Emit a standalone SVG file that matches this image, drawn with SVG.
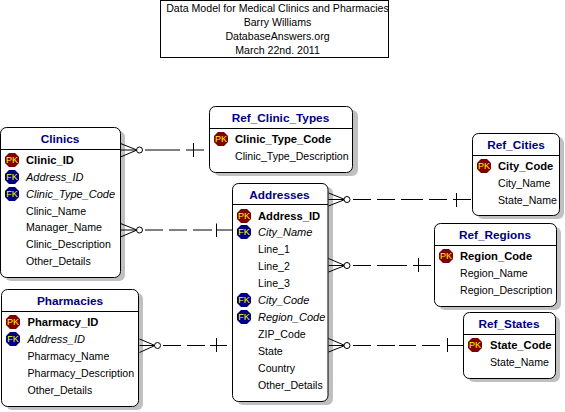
<svg xmlns="http://www.w3.org/2000/svg" width="565" height="412" viewBox="0 0 565 412">
<style>
text{font-family:"Liberation Sans",Arial,sans-serif;font-size:10.6px;fill:#000}
.t{font-size:11.8px;font-weight:bold;fill:#000080;text-anchor:middle}
.pk{font-weight:bold;font-size:11.2px}
.fk{font-style:italic;font-size:11px}
.h{text-anchor:middle}
.ic{font-size:9px;fill:#ffff00;text-anchor:middle}
.box{fill:#fff;stroke:#000;stroke-width:1}
.sh{fill:#c0c0c0}
.ln{stroke:#000;stroke-width:1;fill:none}
.c{stroke:#000;stroke-width:1;fill:#fff}
</style>
<defs>
<polygon id="oct" points="-3,-7 3,-7 7,-3 7,3 3,7 -3,7 -7,3 -7,-3"/>
</defs>
<rect width="565" height="412" fill="#fff"/>
<g id="title">
<rect x="160.500" y="0.500" width="228" height="57" fill="#fff" stroke="#000"/>
<text class="h" x="277.500" y="12">Data Model for Medical Clinics and Pharmacies</text>
<text class="h" x="277.500" y="26">Barry Williams</text>
<text class="h" x="277.500" y="40">DatabaseAnswers.org</text>
<text class="h" x="277.500" y="54">March 22nd. 2011</text>
</g>
<g id="Clinics">
<rect class="sh" x="5" y="131" width="120" height="150" rx="6"/>
<rect class="box" x="0.500" y="127.500" width="120" height="150" rx="6"/>
<path class="ln" d="M0.500 149.500H120.500"/>
<text class="t" x="60" y="143">Clinics</text>
<use href="#oct" x="12" y="160" fill="#800000"/><text class="ic" x="12" y="163">PK</text>
<use href="#oct" x="12" y="177" fill="#000080"/><text class="ic" x="12" y="180">FK</text>
<use href="#oct" x="12" y="194" fill="#000080"/><text class="ic" x="12" y="197">FK</text>
<text class="pk" x="26" y="164">Clinic_ID</text>
<text class="fk" x="26" y="181">Address_ID</text>
<text class="fk" x="26" y="198">Clinic_Type_Code</text>
<text x="26" y="215">Clinic_Name</text>
<text x="26" y="231">Manager_Name</text>
<text x="26" y="248">Clinic_Description</text>
<text x="26" y="265">Other_Details</text>
</g>
<g id="Ref_Clinic_Types">
<rect class="sh" x="214" y="110" width="144" height="66" rx="6"/>
<rect class="box" x="209.500" y="106.500" width="143" height="66" rx="6"/>
<path class="ln" d="M209.500 128.500H352.500"/>
<text class="t" x="280.500" y="122">Ref_Clinic_Types</text>
<use href="#oct" x="221" y="139" fill="#800000"/><text class="ic" x="221" y="142">PK</text>
<text class="pk" x="235" y="143">Clinic_Type_Code</text>
<text x="235" y="160">Clinic_Type_Description</text>
</g>
<g id="Addresses">
<rect class="sh" x="237" y="187" width="96" height="218" rx="6"/>
<rect class="box" x="232.500" y="183.500" width="95.500" height="218" rx="6"/>
<path class="ln" d="M232.500 204.500H328"/>
<text class="t" x="279.500" y="199">Addresses</text>
<use href="#oct" x="244" y="216" fill="#800000"/><text class="ic" x="244" y="219">PK</text>
<use href="#oct" x="244" y="232" fill="#000080"/><text class="ic" x="244" y="235">FK</text>
<use href="#oct" x="244" y="300" fill="#000080"/><text class="ic" x="244" y="303">FK</text>
<use href="#oct" x="244" y="317" fill="#000080"/><text class="ic" x="244" y="320">FK</text>
<text class="pk" x="258" y="220">Address_ID</text>
<text class="fk" x="258" y="236">City_Name</text>
<text x="258" y="253">Line_1</text>
<text x="258" y="270">Line_2</text>
<text x="258" y="287">Line_3</text>
<text class="fk" x="258" y="304">City_Code</text>
<text class="fk" x="258" y="321">Region_Code</text>
<text x="258" y="338">ZIP_Code</text>
<text x="258" y="355">State</text>
<text x="258" y="372">Country</text>
<text x="258" y="389">Other_Details</text>
</g>
<g id="Pharmacies">
<rect class="sh" x="6" y="293" width="137" height="117" rx="6"/>
<rect class="box" x="1.500" y="289.500" width="137" height="117" rx="6"/>
<path class="ln" d="M1.500 311.500H138.500"/>
<text class="t" x="70" y="305">Pharmacies</text>
<use href="#oct" x="13" y="322" fill="#800000"/><text class="ic" x="13" y="325">PK</text>
<use href="#oct" x="13" y="339" fill="#000080"/><text class="ic" x="13" y="342">FK</text>
<text class="pk" x="27.500" y="326">Pharmacy_ID</text>
<text class="fk" x="27.500" y="343">Address_ID</text>
<text x="27.500" y="360">Pharmacy_Name</text>
<text x="27.500" y="377">Pharmacy_Description</text>
<text x="27.500" y="394">Other_Details</text>
</g>
<g id="Ref_Cities">
<rect class="sh" x="477" y="137" width="87" height="82" rx="6"/>
<rect class="box" x="472.500" y="133.500" width="87" height="82" rx="6"/>
<path class="ln" d="M472.500 155.500H559.500"/>
<text class="t" x="516" y="149">Ref_Cities</text>
<use href="#oct" x="484" y="166" fill="#800000"/><text class="ic" x="484" y="169">PK</text>
<text class="pk" x="498" y="170">City_Code</text>
<text x="498" y="187">City_Name</text>
<text x="498" y="204">State_Name</text>
</g>
<g id="Ref_Regions">
<rect class="sh" x="439" y="227" width="122" height="83" rx="6"/>
<rect class="box" x="434.500" y="223.500" width="122" height="83" rx="6"/>
<path class="ln" d="M434.500 245.500H556.500"/>
<text class="t" x="495" y="239">Ref_Regions</text>
<use href="#oct" x="446" y="256" fill="#800000"/><text class="ic" x="446" y="259">PK</text>
<text class="pk" x="460" y="260">Region_Code</text>
<text x="460" y="277">Region_Name</text>
<text x="460" y="294">Region_Description</text>
</g>
<g id="Ref_States">
<rect class="sh" x="468" y="316" width="92" height="66" rx="6"/>
<rect class="box" x="463.500" y="312.500" width="92" height="66" rx="6"/>
<path class="ln" d="M463.500 334.500H555.500"/>
<text class="t" x="509" y="328">Ref_States</text>
<use href="#oct" x="475" y="345" fill="#800000"/><text class="ic" x="475" y="348">PK</text>
<text class="pk" x="490" y="349">State_Code</text>
<text x="490" y="366">State_Name</text>
</g>
<g id="connectors">
<g id="c1"><path class="ln" d="M120.500 143.500L137 150L120.500 157M120.500 150H137M145 150H180M186 150H204M193.500 143V157"/><circle class="c" cx="139.500" cy="150" r="3"/></g>
<g id="c2"><path class="ln" d="M120.500 223.500L137 230L120.500 237M120.500 230H137M145 230H163M169 230H187M193 230H212M216.500 230H232M216.500 223.500V237"/><circle class="c" cx="139.500" cy="230" r="3"/></g>
<g id="c3"><path class="ln" d="M328.500 193L345 199.500L328.500 206M328.500 199.500H345M353 199.500H371M377 199.500H395M401 199.500H423M429 199.500H447M453 199.500H471M456.500 193V207"/><circle class="c" cx="347" cy="199.500" r="3"/></g>
<g id="c4"><path class="ln" d="M328.500 258.500L345 265.500L328.500 272M328.500 265.500H345M353 265.500H371M377 265.500H407M413 265.500H431M418.500 258V272"/><circle class="c" cx="347" cy="265.500" r="3"/></g>
<g id="c5"><path class="ln" d="M328.500 338.500L345 345.500L328.500 352M328.500 345.500H345M353 345.500H371M377 345.500H395M399 345.500H416M422 345.500H440M447.500 345.500H463M447.500 338V352"/><circle class="c" cx="347" cy="345.500" r="3"/></g>
<g id="c6"><path class="ln" d="M139.500 339L155 345.500L139.500 352.500M139.500 345.500H155M163 345.500H181M187 345.500H205M210 345.500H227M216.500 338V352"/><circle class="c" cx="157.500" cy="345.500" r="3"/></g>
</g>
</svg>
